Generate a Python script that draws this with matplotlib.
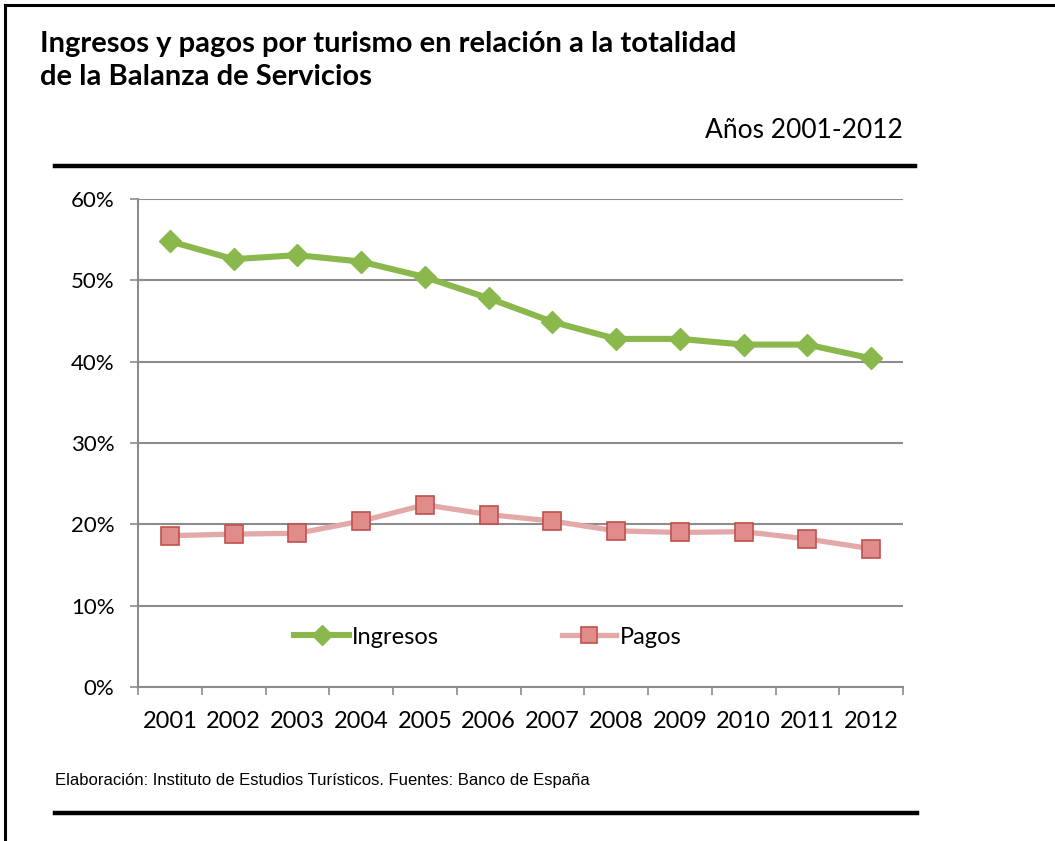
import numpy as np
import matplotlib
matplotlib.use("Agg")
import matplotlib.pyplot as plt
from matplotlib.lines import Line2D

# data (% of services balance)
years = ["2001", "2002", "2003", "2004", "2005", "2006",
         "2007", "2008", "2009", "2010", "2011", "2012"]
ingresos = [54.8, 52.6, 53.1, 52.3, 50.4, 47.8, 44.9, 42.8, 42.8, 42.1, 42.1, 40.4]
pagos = [18.6, 18.8, 18.9, 20.4, 22.4, 21.2, 20.4, 19.2, 19.0, 19.1, 18.2, 17.0]
yticks = [0, 10, 20, 30, 40, 50, 60]

green = "#8BB84C"
pink_line = "#E2A9A8"
pink_face = "#E08C8B"
pink_edge = "#C0504D"
grid_gray = "#8C8C8C"

font = ["Lato", "DejaVu Sans"]
plt.rcParams["font.family"] = font

W, H = 1055, 841
fig = plt.figure(figsize=(W / 100, H / 100), dpi=100)

def fx(px):
    return px / W

def fy(py):
    return 1 - py / H

# frame (top and left borders)
fig.add_artist(Line2D([fx(5), 1], [fy(5), fy(5)], color="black", lw=2.2))
fig.add_artist(Line2D([fx(5), fx(5)], [fy(5), 0], color="black", lw=2.2))

# titles
fig.text(fx(40), fy(44), "Ingresos y pagos por turismo en relación a la totalidad",
         fontsize=21, fontweight="bold", va="center", ha="left")
fig.text(fx(40), fy(77), "de la Balanza de Servicios",
         fontsize=21, fontweight="bold", va="center", ha="left")
fig.text(fx(903), fy(130), "Años 2001-2012", fontsize=19, va="center", ha="right")

# horizontal rules
fig.add_artist(Line2D([fx(55), fx(915)], [fy(166), fy(166)], color="black", lw=3.2))
fig.add_artist(Line2D([fx(55), fx(917)], [fy(813), fy(813)], color="black", lw=3.2))

fig.text(fx(55), fy(780),
         "Elaboración: Instituto de Estudios Turísticos. Fuentes: Banco de España",
         fontsize=12, va="center", ha="left", family=["Liberation Sans", "DejaVu Sans"])

# chart area
ax = fig.add_axes([fx(138), fy(687), fx(903) - fx(138), fy(199) - fy(687)])
x = np.arange(len(years))

ax.plot(x, pagos, color=pink_line, lw=3.8, marker="s", ms=13,
        markerfacecolor=pink_face, markeredgecolor=pink_edge, markeredgewidth=1.2,
        label="Pagos", zorder=3)
ax.plot(x, ingresos, color=green, lw=4.4, marker="D", ms=11.5,
        markerfacecolor=green, markeredgecolor=green, label="Ingresos", zorder=4)

ax.set_xlim(-0.5, len(years) - 0.5)
ax.set_ylim(0, 60)
ax.set_yticks(yticks)
ax.set_yticklabels([f"{v}%" for v in yticks], fontsize=16)
ax.yaxis.grid(True, color=grid_gray, lw=1.5)
ax.set_axisbelow(True)

# category axis: ticks at boundaries, labels at centres
ax.set_xticks(np.arange(-0.5, len(years), 1.0))
ax.set_xticklabels([])
ax.set_xticks(x, minor=True)
ax.set_xticklabels(years, minor=True, fontsize=17)
ax.tick_params(axis="x", which="major", length=6, width=1.2, color=grid_gray, direction="out")
ax.tick_params(axis="x", which="minor", length=0, pad=17)
ax.tick_params(axis="y", length=6, width=1.2, color=grid_gray, pad=11)

for s in ["top", "right"]:
    ax.spines[s].set_visible(False)
for s in ["left", "bottom"]:
    ax.spines[s].set_color(grid_gray)
    ax.spines[s].set_linewidth(1.5)

h, l = ax.get_legend_handles_labels()
leg = ax.legend(h[::-1], l[::-1], ncol=2, loc="center",
                bbox_to_anchor=(fx(488), fy(637)), bbox_transform=fig.transFigure,
                frameon=False, fontsize=17, handlelength=2.3, columnspacing=5.2,
                handletextpad=0.15, markerscale=0.85)

fig.savefig("out.png", dpi=100)
